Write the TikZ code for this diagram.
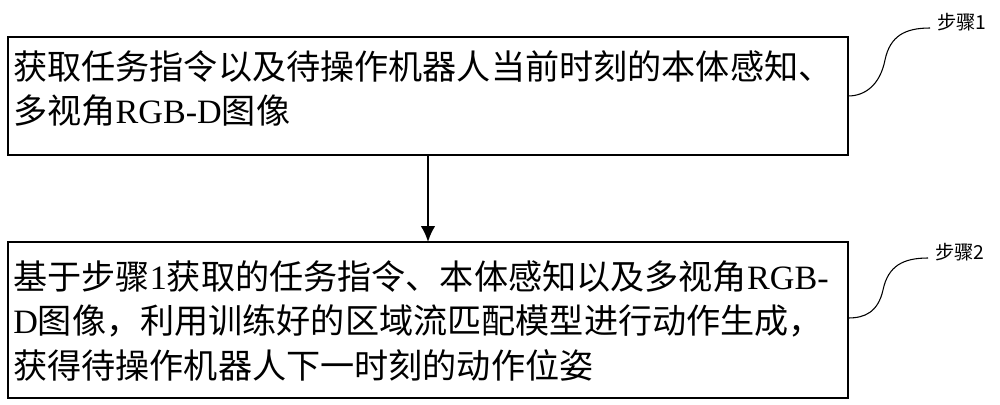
\documentclass[tikz,border=0pt]{standalone}
\usepackage{fontspec}
\usetikzlibrary{arrows.meta}
\setmainfont{Liberation Serif}
\newfontfamily\cjk{Noto Sans CJK SC}
\begin{document}
\begin{tikzpicture}[x=0.75pt,y=-0.75pt,
  box/.style={draw,line width=1.2pt},
  txt/.style={anchor=north west,align=left,inner sep=0pt,font=\cjk\fontsize{25.6pt}{33.5pt}\selectfont,text width=650pt},
  lbl/.style={font=\cjk\fontsize{14.5pt}{16pt}\selectfont,inner sep=0pt}]
\useasboundingbox (0,0) rectangle (1000,404);
\draw[box] (8,37) rectangle (848,155);
\draw[box] (8,242) rectangle (848,398);
\node[txt] (t1) at (13,50) {获取任务指令以及待操作机器人当前时刻的本体感知、\\多视角{\rmfamily RGB-D}图像};
\node[txt] (t2) at (13,260) {基于步骤{\rmfamily 1}获取的任务指令、本体感知以及多视角{\rmfamily RGB-}\\{\rmfamily D}图像，利用训练好的区域流匹配模型进行动作生成，\\获得待操作机器人下一时刻的动作位姿};
\coordinate (b1) at (428,155);
\coordinate (b2) at (428,242);
\draw[line width=1.5pt,-{Latex[length=12pt,width=11pt]}] (b1) -- (b2);
\node[lbl] (l1) at (962,22) {步骤1};
\node[lbl] (l2) at (960,252) {步骤2};
\coordinate (e1) at (848,96);
\coordinate (e2) at (848,318);
\draw[line width=0.8pt] (930,28) .. controls (905,28) and (890,36) .. (885,60) .. controls (880,85) and (865,96) .. (e1);
\draw[line width=0.8pt] (928,258) .. controls (903,258) and (888,266) .. (883,290) .. controls (878,312) and (865,318) .. (e2);
\end{tikzpicture}
\end{document}
